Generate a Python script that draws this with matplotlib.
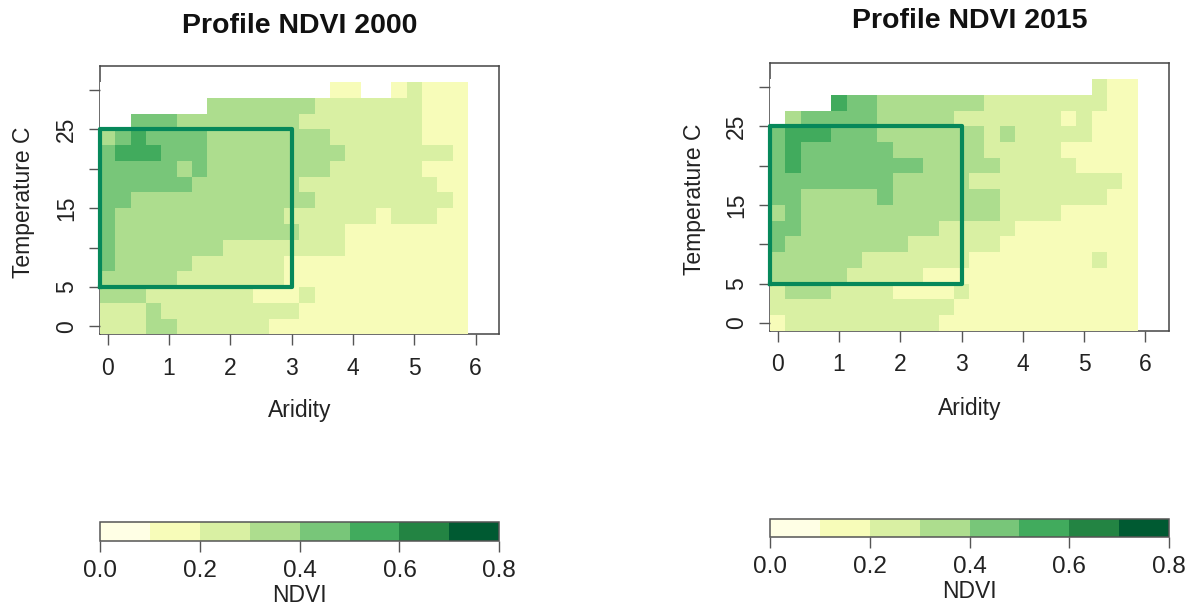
import numpy as np
import matplotlib
matplotlib.use("Agg")
import matplotlib.pyplot as plt
from matplotlib.colors import ListedColormap, BoundaryNorm
from matplotlib.cm import ScalarMappable

plt.rcParams['font.family'] = ['Liberation Sans', 'DejaVu Sans']

# NDVI class per cell, top row (30 C) first, left column (aridity 0) first
# 0 = no data, n = NDVI bin from (n)/10 to (n+1)/10
classes_2000 = [
    "000000000000000110012111",
    "000000033333332222222111",
    "004443333333322222222111",
    "345444433333333222222111",
    "455544433333333322222221",
    "444443433333333222222111",
    "444444333333322222222211",
    "443333333333332222222221",
    "433333333333222222122211",
    "433333333333322211111111",
    "433333332222222211111111",
    "433333222222111111111111",
    "333332222222111111111111",
    "333222222211121111111111",
    "222322222222211111111111",
    "222332222221111111111111",
]
classes_2015 = [
    "000000000000000000000211",
    "000054433333332222222211",
    "034444433333222222212111",
    "455544433333332322222111",
    "454444443333332222211111",
    "454444444433333222221111",
    "444444443333322222222221",
    "443333343333333222222211",
    "343333333333333222211111",
    "443333333332222211111111",
    "433333333222222111111111",
    "333333222222211111111211",
    "333332222211111111111111",
    "233322221111211111111111",
    "222222222222111111111111",
    "122222222221111111111111",
]
aridity = np.arange(24) * 0.25
temperature = np.arange(30, -1, -2)
aridity_ticks = [0, 1, 2, 3, 4, 5, 6]
temp_ticks = [0, 5, 10, 15, 20, 25, 30]
temp_labels = ['0', '5', '', '15', '', '25', '']
box_aridity = [-0.125, 3]
box_temp = [5, 25]
levels = [0, 0.1, 0.2, 0.3, 0.4, 0.5, 0.6, 0.7, 0.8]
level_ticks = [0, 0.2, 0.4, 0.6, 0.8]
colors = ['#ffffe5', '#f7fcb9', '#d9f0a3', '#addd8e', '#78c679', '#41ab5d', '#238443', '#005a32']

W, H = 1195, 608
BOX_COLOR = '#06885a'
AXIS_COLOR = '#555555'
TEXT_COLOR = '#222222'
FS = 16.5

cmap = ListedColormap(colors)
cmap.set_bad('white')
norm = BoundaryNorm(levels, cmap.N)


def add_px_axes(fig, left, top, right, bottom):
    return fig.add_axes([left / W, 1 - bottom / H, (right - left) / W, (bottom - top) / H])


def to_ndvi(rows):
    grid = np.array([[int(c) for c in r] for r in rows], dtype=float)
    grid[grid == 0] = np.nan
    return grid / 10 + 0.05


def draw_panel(fig, rows, title, left, top, right, bottom, title_y, xlabel_y, bar_top, bar_bottom):
    ax = add_px_axes(fig, left, top, right, bottom)
    ax.pcolormesh(aridity, temperature, to_ndvi(rows), cmap=cmap, norm=norm, shading='nearest')
    ax.set_xlim(-0.125, 6.386)
    ax.set_ylim(-1, 33.05)
    ax.set_xticks(aridity_ticks)
    ax.set_yticks(temp_ticks)
    ax.set_yticklabels(temp_labels, rotation=90, va='center')
    ax.tick_params(length=8, width=1.0, color=AXIS_COLOR, labelsize=FS, labelcolor=TEXT_COLOR)
    ax.tick_params(axis='x', pad=8)
    ax.tick_params(axis='y', pad=8)
    for spine in ax.spines.values():
        spine.set_color('#444444')
        spine.set_linewidth(1.1)
        spine.set_zorder(0.5)

    # study box
    xs = [box_aridity[0], box_aridity[1], box_aridity[1], box_aridity[0], box_aridity[0]]
    ys = [box_temp[0], box_temp[0], box_temp[1], box_temp[1], box_temp[0]]
    ax.plot(xs, ys, color=BOX_COLOR, lw=3.0, clip_on=False, zorder=3)

    center = (left + right) / 2
    fig.text(center / W, 1 - title_y / H, title, ha='center', va='center',
             fontsize=20.5, fontweight='bold', color='#111111')
    fig.text(center / W, 1 - xlabel_y / H, 'Aridity', ha='center', va='center',
             fontsize=FS, color=TEXT_COLOR)
    fig.text((left - 76) / W, 1 - ((top + bottom) / 2 + 2) / H, 'Temperature C', rotation=90,
             ha='center', va='center', fontsize=FS, color=TEXT_COLOR)

    # colour key
    cax = add_px_axes(fig, left, bar_top, right, bar_bottom)
    cb = fig.colorbar(ScalarMappable(norm=norm, cmap=cmap), cax=cax, orientation='horizontal',
                      spacing='proportional')
    cb.set_ticks(level_ticks)
    cb.set_ticklabels(['0.0', '0.2', '0.4', '0.6', '0.8'])
    cb.ax.minorticks_off()
    cb.ax.tick_params(length=8, width=1.0, color=AXIS_COLOR, labelsize=FS + 1, labelcolor=TEXT_COLOR, pad=6)
    cb.outline.set_edgecolor('#555555')
    cb.outline.set_linewidth(1.1)
    fig.text(center / W, 1 - (bar_bottom + 54) / H, 'NDVI', ha='center', va='center',
             fontsize=FS, color=TEXT_COLOR)


fig = plt.figure(figsize=(W / 100, H / 100), dpi=100)
draw_panel(fig, classes_2000, 'Profile NDVI 2000', 100, 66, 499.3, 334.3, 26, 411, 522, 541)
draw_panel(fig, classes_2015, 'Profile NDVI 2015', 770, 63, 1169, 330.7, 21, 408, 519, 537)
fig.savefig('out.png', dpi=100)
